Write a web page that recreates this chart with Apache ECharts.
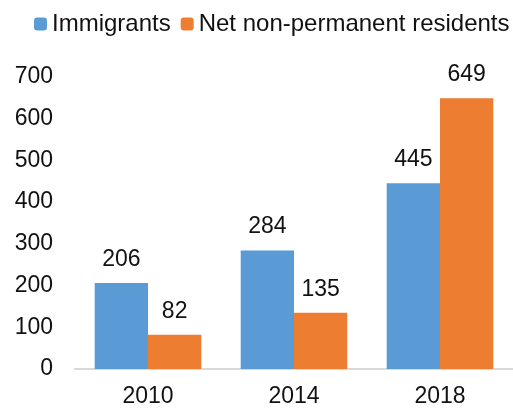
<!DOCTYPE html>
<html><head><meta charset="utf-8">
<script src="https://cdn.jsdelivr.net/npm/echarts@6/dist/echarts.min.js"></script>
<style>html,body{margin:0;padding:0;background:#fff}#c{width:513px;height:411px}</style>
</head><body><div id="c"></div>
<script>
const categories = ['2010', '2014', '2018'];
const immigrants = [206, 284, 445];
const netNonPermanent = [82, 135, 649];
const yTicks = [0, 700, 100];

const font = '"Liberation Sans", Arial, sans-serif';
const chart = echarts.init(document.getElementById('c'));
chart.setOption({
  animation: false,
  legend: {
    left: 34, top: 12, padding: 0, width: 479, itemWidth: 13, itemHeight: 13, itemGap: 10,
    textStyle: { fontFamily: font, fontSize: 24, color: '#111' },
    data: ['Immigrants', 'Net non-permanent residents']
  },
  grid: { left: 75, right: 0, top: 77, bottom: 42 },
  xAxis: {
    type: 'category', data: categories,
    axisLine: { lineStyle: { color: '#d9d9d9', width: 2 } },
    axisTick: { show: false },
    axisLabel: { fontFamily: font, fontSize: 23, color: '#111', margin: 16 }
  },
  yAxis: {
    type: 'value', min: yTicks[0], max: yTicks[1], interval: yTicks[2],
    splitLine: { show: false },
    axisLine: { show: false }, axisTick: { show: false },
    axisLabel: { fontFamily: font, fontSize: 23, color: '#111', margin: 22 }
  },
  series: [
    { name: 'Immigrants', type: 'bar', data: immigrants, barGap: '0%', barCategoryGap: '27%',
      itemStyle: { color: '#5B9BD5' },
      label: { show: true, position: 'top', distance: 12, fontFamily: font, fontSize: 23, color: '#111' } },
    { name: 'Net non-permanent residents', type: 'bar', data: netNonPermanent, barGap: '0%', barCategoryGap: '27%',
      itemStyle: { color: '#ED7D31' },
      label: { show: true, position: 'top', distance: 12, fontFamily: font, fontSize: 23, color: '#111' } }
  ]
});
</script></body></html>
